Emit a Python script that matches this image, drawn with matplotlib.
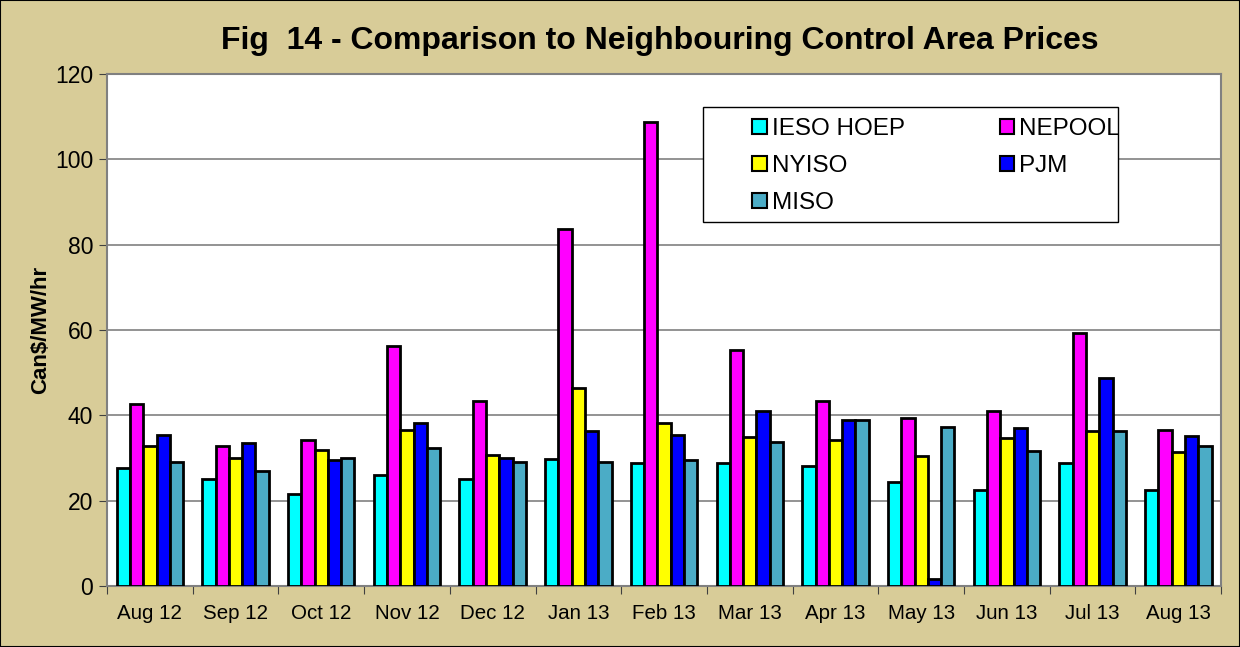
import numpy as np
import matplotlib.pyplot as plt
from matplotlib.patches import Rectangle

plt.rcParams["font.family"] = ["Liberation Sans", "DejaVu Sans"]

months = ["Aug 12", "Sep 12", "Oct 12", "Nov 12", "Dec 12", "Jan 13", "Feb 13",
          "Mar 13", "Apr 13", "May 13", "Jun 13", "Jul 13", "Aug 13"]
ieso = [27.6, 25.0, 21.6, 25.9, 25.0, 29.8, 28.9, 28.9, 28.1, 24.3, 22.6, 28.9, 22.4]
nepool = [42.6, 32.9, 34.3, 56.2, 43.3, 83.7, 108.8, 55.3, 43.4, 39.3, 40.9, 59.4, 36.5]
nyiso = [32.8, 30.1, 31.8, 36.5, 30.8, 46.4, 38.1, 34.9, 34.2, 30.5, 34.6, 36.3, 31.4]
pjm = [35.5, 33.6, 29.5, 38.1, 30.0, 36.3, 35.3, 40.9, 39.0, 1.6, 37.0, 48.8, 35.2]
miso = [29.0, 26.9, 30.1, 32.4, 29.1, 29.1, 29.5, 33.7, 39.0, 37.3, 31.6, 36.4, 32.9]

series = [("IESO HOEP", ieso, "#00FFFF"), ("NEPOOL", nepool, "#FF00FF"),
          ("NYISO", nyiso, "#FFFF00"), ("PJM", pjm, "#0000FF"),
          ("MISO", miso, "#4BACC6")]

bg = "#D8CC98"
fig = plt.figure(figsize=(12.4, 6.47), dpi=100, facecolor=bg)
fig.patches.append(Rectangle((0, 0), 1, 1, transform=fig.transFigure, fill=False,
                             edgecolor="black", linewidth=1.5))
ax = fig.add_axes([0.0863, 0.0943, 0.8985, 0.7913])

x = np.arange(len(months))
w = 0.155
bars = []
for i, (name, vals, col) in enumerate(series):
    b = ax.bar(x + (i - 2) * w, vals, w, color=col, edgecolor="black", linewidth=2.0,
               label=name, zorder=3)
    bars.append(b)

ax.set_xlim(-0.5, len(months) - 0.5)
ax.set_ylim(0, 120)
ax.set_yticks(range(0, 121, 20))
ax.yaxis.grid(True, color="#808080", linewidth=1.2, zorder=0)
ax.tick_params(axis="y", labelsize=16.5, length=6, color="#404040", pad=4)

ax.set_xticks(np.arange(-0.5, len(months), 1))
ax.set_xticklabels([])
ax.set_xticks(x, minor=True)
ax.set_xticklabels(months, minor=True, fontsize=14.8)
ax.tick_params(axis="x", which="major", length=6, color="#404040")
ax.tick_params(axis="x", which="minor", length=0, pad=13)

for s in ax.spines.values():
    s.set_color("#808080")
    s.set_linewidth(1.5)

ax.set_ylabel("Can\\$/MW/hr", fontsize=16, fontweight="bold", labelpad=3)
fig.suptitle("Fig  14 - Comparison to Neighbouring Control Area Prices",
             fontsize=23, fontweight="bold", x=0.532, y=0.96)

# legend box drawn separately so the inner padding can match the original
ax.add_patch(Rectangle((0.535, 0.711), 0.372, 0.225, transform=ax.transAxes,
                       facecolor="white", edgecolor="black", linewidth=1.0, zorder=4))

# row-wise order like the original: IESO, NEPOOL / NYISO, PJM / MISO
order = [0, 2, 4, 1, 3]
leg = ax.legend([bars[k] for k in order], [series[k][0] for k in order],
                ncol=2, loc="upper left", bbox_to_anchor=(0.579, 0.914, 0.33, 0),
                mode="expand", fontsize=17.5, frameon=False,
                handlelength=0.6, handleheight=0.6, handletextpad=0.2,
                labelspacing=0.62, borderpad=0, borderaxespad=0, columnspacing=1.0)
leg.set_zorder(5)
for h in leg.legend_handles:
    h.set_linewidth(1.5)

fig.savefig("out.png", dpi=100, facecolor=bg)
